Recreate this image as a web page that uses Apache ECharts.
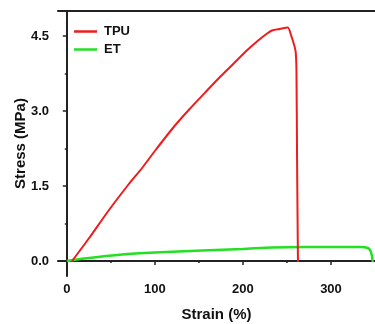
<!DOCTYPE html>
<html><head><meta charset="utf-8">
<script src="https://cdn.jsdelivr.net/npm/echarts@6/dist/echarts.min.js"></script>
<style>html,body{margin:0;padding:0;background:#fff}#c{width:375px;height:324px}</style>
</head><body><div id="c"></div>
<script>
const seriesNames = ['TPU', 'ET'];
const tpuStrain = [6, 25, 47.5, 70, 85.5, 100, 121.4, 140, 159.3, 175, 189.5, 205, 218, 227.5, 233, 242, 251, 254.8, 259.7, 260.8, 261.5, 262.5];
const tpuStress = [0, 0.45, 1.01, 1.53, 1.86, 2.2, 2.68, 3.05, 3.41, 3.7, 3.95, 4.22, 4.42, 4.55, 4.61, 4.64, 4.67, 4.51, 4.21, 3.81, 2.0, -0.02];
const etStrain = [0, 20, 62.7, 100, 153.6, 200, 233, 270, 300, 333.5, 342, 345, 346.5, 347.5];
const etStress = [0, 0.05, 0.13, 0.17, 0.21, 0.24, 0.27, 0.28, 0.28, 0.28, 0.26, 0.2, 0.1, -0.02];
const xTickLabels = [0, 100, 200, 300];
const xMinorTicks = [50, 150, 250];
const yTickLabels = [0, 1.5, 3.0, 4.5];
const yMinorTicks = [0.75, 2.25, 3.75];

const axisColor = '#222';
const font = 'Liberation Sans, Arial, sans-serif';
const pairs = (xs, ys) => xs.map((x, i) => [x, ys[i]]);

const chart = echarts.init(document.getElementById('c'), null, {renderer: 'canvas'});
chart.setOption({
  animation: false,
  grid: {left: 58, right: 0, top: 11, bottom: 48, containLabel: false, outerBoundsMode: 'none'},
  legend: {
    orient: 'vertical', left: 74, top: 24, padding: 0, icon: 'rect',
    itemWidth: 23, itemHeight: 2.5, itemGap: 3,
    data: seriesNames,
    textStyle: {fontFamily: font, fontWeight: 'bold', fontSize: 13, lineHeight: 15, color: '#111', padding: [0, 0, 0, 2]}
  },
  xAxis: [
    {type: 'value', min: -10, max: 350, position: 'bottom',
     name: 'Strain (%)', nameLocation: 'middle', nameGap: 31, nameMoveOverlap: false,
     nameTextStyle: {fontFamily: font, fontWeight: 'bold', fontSize: 15, color: '#111'},
     axisLine: {show: true, lineStyle: {color: axisColor, width: 2}},
     axisTick: {show: true, customValues: xTickLabels, length: 4, lineStyle: {color: axisColor, width: 1.5}},
     axisLabel: {customValues: xTickLabels, margin: 7, fontFamily: font, fontWeight: 'bold', fontSize: 13, color: '#111'},
     splitLine: {show: false}},
    {type: 'value', min: -10, max: 350, position: 'bottom',
     axisLine: {show: false},
     axisTick: {show: true, customValues: xMinorTicks, length: 2, lineStyle: {color: axisColor, width: 1.5}},
     axisLabel: {show: false}, splitLine: {show: false}},
    {type: 'value', min: -10, max: 350, position: 'top',
     axisLine: {show: true, lineStyle: {color: axisColor, width: 2}},
     axisTick: {show: false}, axisLabel: {show: false}, splitLine: {show: false}}
  ],
  yAxis: [
    {type: 'value', min: -0.3, max: 5.0, position: 'left',
     name: 'Stress (MPa)', nameLocation: 'middle', nameGap: 30, nameMoveOverlap: false,
     nameTextStyle: {fontFamily: font, fontWeight: 'bold', fontSize: 15, color: '#111'},
     axisLine: {show: true, lineStyle: {color: axisColor, width: 2}},
     axisTick: {show: true, customValues: yTickLabels, length: 4, lineStyle: {color: axisColor, width: 1.5}},
     axisLabel: {customValues: yTickLabels, margin: 9, formatter: v => Number(v).toFixed(1),
       fontFamily: font, fontWeight: 'bold', fontSize: 13, color: '#111'},
     splitLine: {show: false}},
    {type: 'value', min: -0.3, max: 5.0, position: 'left',
     axisLine: {show: false},
     axisTick: {show: true, customValues: yMinorTicks, length: 2, lineStyle: {color: axisColor, width: 1.5}},
     axisLabel: {show: false}, splitLine: {show: false}}
  ],
  series: [
    {name: seriesNames[0], type: 'line', data: pairs(tpuStrain, tpuStress), symbol: 'none',
     smooth: 0.2, itemStyle: {color: '#ee1c1c'}, lineStyle: {color: '#ee1c1c', width: 2}, z: 3},
    {name: seriesNames[1], type: 'line', data: pairs(etStrain, etStress), symbol: 'none',
     smooth: 0.2, itemStyle: {color: '#22e022'}, lineStyle: {color: '#22e022', width: 2.5}, z: 2}
  ]
});
</script></body></html>
